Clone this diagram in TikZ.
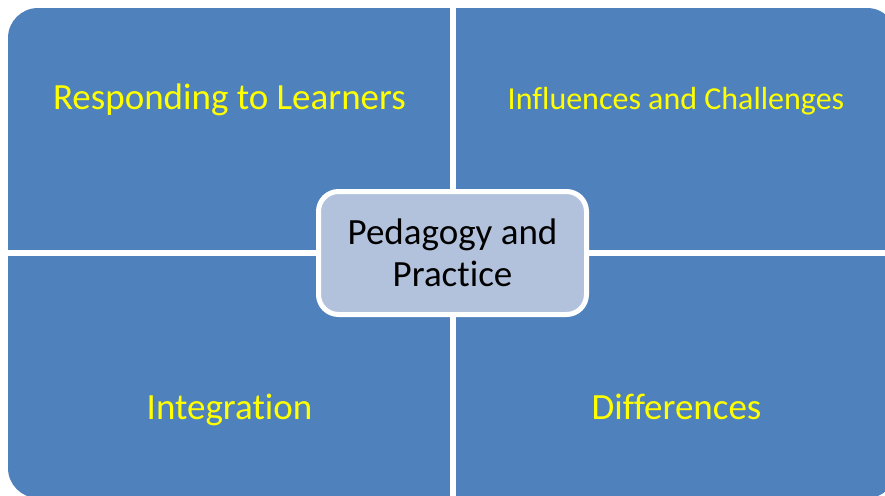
\documentclass[tikz,border=0pt]{standalone}
\usepackage{fontspec}
\setmainfont[Ligatures=NoCommon]{Carlito}
\definecolor{quad}{HTML}{4F81BD}
\definecolor{hub}{HTML}{B2C2DD}
\definecolor{lbl}{HTML}{FFFF00}
\begin{document}
\begin{tikzpicture}[x=1pt,y=-1pt,
  quadlabel/.style={text=lbl,inner sep=0pt,anchor=base,font=\fontsize{37}{44}\selectfont},
  hubbox/.style={draw=white,line width=5pt,fill=hub,rounded corners=20pt,minimum width=268pt,minimum height=123pt,align=center,font=\fontsize{37}{42}\selectfont}]
\useasboundingbox (0,0) rectangle (885,495);
\begin{scope}
  \clip[rounded corners=30pt] (8,8) rectangle (897,498);
  \fill[quad] (8,8) rectangle (450,250);
  \fill[quad] (456,8) rectangle (897,250);
  \fill[quad] (8,256) rectangle (450,498);
  \fill[quad] (456,256) rectangle (897,498);
\end{scope}
\node[quadlabel] (tl) at (229.5,109) {Responding to Learners};
\node[quadlabel,font=\fontsize{32}{38}\selectfont] (tr) at (676,109) {Influences and Challenges};
\node[quadlabel] (bl) at (229.5,419) {Integration};
\node[quadlabel] (br) at (676.5,419) {Differences};
\node[hubbox] (hub) at (452.5,253) {Pedagogy and\\Practice};
\end{tikzpicture}
\end{document}
